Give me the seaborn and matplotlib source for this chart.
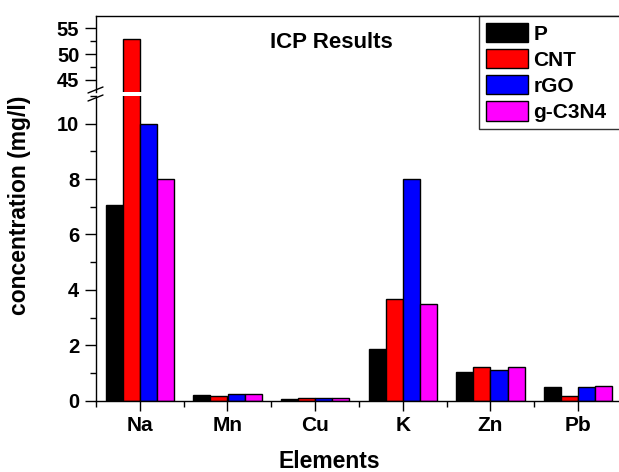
import numpy as np
import pandas as pd
import matplotlib
matplotlib.use("Agg")
import matplotlib.pyplot as plt
import seaborn as sns
from matplotlib.lines import Line2D
from matplotlib.ticker import MultipleLocator

# values (mg/l)
elements = ['Na', 'Mn', 'Cu', 'K', 'Zn', 'Pb']
samples = ['P', 'CNT', 'rGO', 'g-C3N4']
P = [7.08, 0.19, 0.05, 1.86, 1.02, 0.48]
CNT = [52.9, 0.17, 0.10, 3.68, 1.20, 0.18]
rGO = [10.0, 0.25, 0.09, 7.99, 1.11, 0.48]
gC3N4 = [8.0, 0.25, 0.10, 3.48, 1.20, 0.53]
colors = ['#000000', '#ff0000', '#0000ff', '#ff00ff']

df = pd.DataFrame({'element': elements * 4,
                   'sample': [s for s in samples for _ in elements],
                   'conc': P + CNT + rGO + gC3N4})

sns.set_style("ticks")
plt.rcParams['font.family'] = ['Liberation Sans', 'DejaVu Sans']
plt.rcParams['font.weight'] = 'bold'
plt.rcParams['text.color'] = 'black'
plt.rcParams['xtick.color'] = 'black'
plt.rcParams['ytick.color'] = 'black'
plt.rcParams['axes.labelcolor'] = 'black'

W, H = 619, 472
fig = plt.figure(figsize=(W / 100, H / 100), dpi=100)

def fx(px):
    return px / W

def fy(py):
    return 1 - py / H

ax_lo = fig.add_axes([fx(96), fy(400.7), fx(622 - 96), (400.7 - 96) / H])
ax_hi = fig.add_axes([fx(96), fy(92), fx(622 - 96), (92 - 15.7) / H])

for ax in (ax_lo, ax_hi):
    sns.barplot(data=df, x='element', y='conc', hue='sample', order=elements,
                hue_order=samples, palette=colors, width=0.78, gap=0,
                edgecolor='black', linewidth=1.0, saturation=1, ax=ax)
    ax.set_xlim(-0.5, 5.5)
    ax.set_xlabel('')
    ax.set_ylabel('')
    for s in ax.spines.values():
        s.set_linewidth(1.0)
        s.set_color('black')
    ax.tick_params(axis='y', which='major', length=8, width=1.0, labelsize=14.5, pad=4, direction='out')
    ax.tick_params(axis='y', which='minor', length=4.5, width=1.0, direction='out')

handles, labels = ax_lo.get_legend_handles_labels()
ax_lo.get_legend().remove()
ax_hi.get_legend().remove()

ax_lo.set_ylim(0, 11.0)
ax_lo.yaxis.set_major_locator(MultipleLocator(2))
ax_lo.yaxis.set_minor_locator(MultipleLocator(1))
ax_lo.spines['top'].set_visible(False)
ax_lo.set_xticks(range(len(elements)))
ax_lo.set_xticklabels(elements)
ax_lo.set_xticks(np.arange(-0.5, 6, 1), minor=True)
ax_lo.tick_params(axis='x', which='major', length=7, width=1.0, labelsize=15, pad=4)
ax_lo.tick_params(axis='x', which='minor', length=4, width=1.0)

ax_hi.set_ylim(42.69, 57.37)
ax_hi.yaxis.set_major_locator(MultipleLocator(5))
ax_hi.yaxis.set_minor_locator(MultipleLocator(2.5))
ax_hi.spines['bottom'].set_visible(False)
ax_hi.set_xticks([])
ax_hi.tick_params(axis='x', which='both', bottom=False, labelbottom=False)

for lab in ax_lo.get_yticklabels() + ax_hi.get_yticklabels() + ax_lo.get_xticklabels():
    lab.set_fontweight('bold')

# axis break marks on the left spine
for yb in (90, 98):
    fig.add_artist(Line2D([fx(88), fx(103)], [fy(yb + 3), fy(yb - 3)],
                          color='black', lw=1.0, transform=fig.transFigure))

fig.text(fx(331), fy(42), 'ICP Results', fontsize=16, fontweight='bold',
         ha='center', va='center')
fig.text(fx(20), fy(205), 'concentration (mg/l)', fontsize=16.5, fontweight='bold',
         rotation=90, ha='center', va='center')
fig.text(fx(329), fy(462), 'Elements', fontsize=16.5, fontweight='bold',
         ha='center', va='center')

leg = fig.legend(handles, labels, loc='upper left', mode='expand',
                 bbox_to_anchor=(fx(479), fy(15.5), fx(640 - 479), 0.0),
                 bbox_transform=fig.transFigure,
                 prop={'weight': 'bold', 'size': 15},
                 handlelength=2.0, handleheight=1.05, handletextpad=0.25,
                 labelspacing=0.26, borderpad=0.35, borderaxespad=0,
                 frameon=True, fancybox=False, shadow=False)
leg.get_frame().set_edgecolor('black')
leg.get_frame().set_linewidth(1.0)

fig.savefig('out.png', dpi=100)
